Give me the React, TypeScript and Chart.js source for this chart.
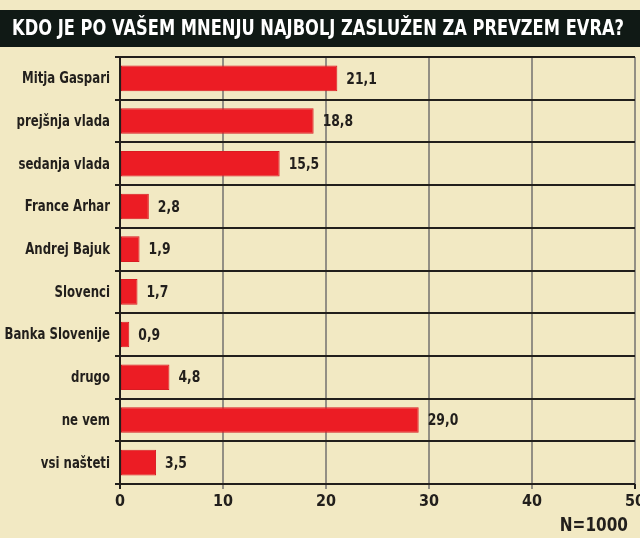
import React, { useRef, useEffect } from 'react';
import { Chart, registerables } from 'chart.js';

Chart.register(...registerables);

// podatki ankete
const kategorije = [
  'Mitja Gaspari',
  'prejšnja vlada',
  'sedanja vlada',
  'France Arhar',
  'Andrej Bajuk',
  'Slovenci',
  'Banka Slovenije',
  'drugo',
  'ne vem',
  'vsi našteti',
];
const odstotki = [21.1, 18.8, 15.5, 2.8, 1.9, 1.7, 0.9, 4.8, 29.0, 3.5];
const xTicks = [0, 10, 20, 30, 40, 50];
const naslov = 'KDO JE PO VAŠEM MNENJU NAJBOLJ ZASLUŽEN ZA PREVZEM EVRA?';
const opomba = 'N=1000';

const FONT = '"Liberation Sans Narrow", "DejaVu Sans Condensed", "Arial Narrow", sans-serif';
const BG = '#f2e9c3';
const INK = '#221f1c';

// zoženo besedilo (pisava v izvirniku je ozka)
const ozkoBesedilo = (c: CanvasRenderingContext2D, txt: string, x: number, y: number, sx: number) => {
  c.save();
  c.translate(x, y);
  c.scale(sx, 1);
  c.fillText(txt, 0, 0);
  c.restore();
};

const App: React.FC = () => {
  const canvasRef = useRef<HTMLCanvasElement>(null);
  const chartRef = useRef<Chart | null>(null);

  useEffect(() => {
    if (!canvasRef.current) return;
    const ctx = canvasRef.current.getContext('2d');
    if (!ctx) return;
    if (chartRef.current) chartRef.current.destroy();

    chartRef.current = new Chart(ctx, {
      type: 'bar',
      data: {
        labels: kategorije,
        datasets: [{
          data: odstotki,
          backgroundColor: '#ec1c24',
          borderColor: '#d91b22',
          borderWidth: 1,
          borderSkipped: false,
          barPercentage: 0.6,
          categoryPercentage: 1,
        }],
      },
      options: {
        indexAxis: 'y',
        responsive: false,
        animation: false,
        layout: { padding: { top: 57, right: 5, left: 0, bottom: 0 } },
        plugins: {
          legend: { display: false },
          tooltip: { enabled: false },
        },
        scales: {
          x: {
            min: 0,
            max: 50,
            afterBuildTicks: (s: any) => { s.ticks = xTicks.map(v => ({ value: v })); },
            afterFit: (s: any) => { s.height = 54; s.paddingLeft = 0; s.paddingRight = 0; },
            grid: {
              color: (c: any) => (c.tick && c.tick.value === 0 ? INK : '#938f84'),
              tickColor: (c: any) => (c.tick && (c.tick.value === 0 || c.tick.value === 50) ? INK : '#938f84'),
              lineWidth: 2,
              tickLength: 5,
            },
            border: { display: false },
            ticks: {
              color: INK,
              padding: 3,
              maxRotation: 0,
              font: { family: FONT, size: 16, weight: 'bold' },
            },
          },
          y: {
            afterFit: (s: any) => { s.width = 120; },
            grid: {
              offset: true,
              color: INK,
              tickColor: INK,
              lineWidth: 2,
              tickLength: 5,
            },
            border: { display: true, color: INK, width: 2 },
            ticks: { display: false },
          },
        },
      },
      plugins: [{
        id: 'okvir',
        beforeDraw: (chart: any) => {
          const c = chart.ctx;
          c.save();
          c.fillStyle = BG;
          c.fillRect(0, 0, chart.width, chart.height);
          // naslovna vrstica
          c.fillStyle = '#101915';
          c.fillRect(0, 10, chart.width, 37);
          c.font = `bold 20px ${FONT}`;
          c.fillStyle = '#ffffff';
          c.textBaseline = 'middle';
          c.textAlign = 'left';
          const w = c.measureText(naslov).width;
          const target = 612;
          c.translate(12, 29);
          c.scale(target / w, 1.08);
          c.fillText(naslov, 0, 0);
          c.restore();
        },
        afterDatasetsDraw: (chart: any) => {
          const c = chart.ctx;
          const meta = chart.getDatasetMeta(0);
          const yScale = chart.scales.y;
          c.save();
          c.fillStyle = INK;
          c.textBaseline = 'middle';

          // oznake kategorij
          c.font = `bold 15px ${FONT}`;
          c.textAlign = 'right';
          kategorije.forEach((k, i) => {
            ozkoBesedilo(c, k, 110, yScale.getPixelForValue(i) + 1, 0.87);
          });

          // vrednosti ob stolpcih
          c.font = `bold 16px ${FONT}`;
          c.textAlign = 'left';
          meta.data.forEach((bar: any, i: number) => {
            const txt = odstotki[i].toFixed(1).replace('.', ',');
            ozkoBesedilo(c, txt, bar.x + 9, bar.y + 1, 0.86);
          });

          c.font = `bold 20px ${FONT}`;
          c.textAlign = 'right';
          ozkoBesedilo(c, opomba, 628, 526, 0.85);
          c.restore();
        },
      }],
    });

    return () => {
      if (chartRef.current) {
        chartRef.current.destroy();
        chartRef.current = null;
      }
    };
  }, []);

  return (
    <div style={{ position: 'fixed', left: 0, top: 0, width: 640, height: 538, background: BG }}>
      <canvas ref={canvasRef} width={640} height={538} style={{ display: 'block' }} />
    </div>
  );
};

export default App;
